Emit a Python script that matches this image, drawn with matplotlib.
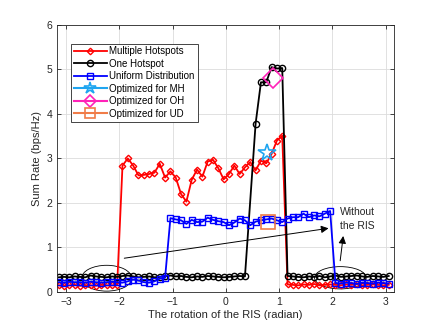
"""Sum rate vs RIS rotation angle, three user distributions plus the optimized points."""

import matplotlib

matplotlib.use("Agg")
import matplotlib.pyplot as plt
import numpy as np
from matplotlib.patches import Ellipse

plt.rcParams["font.family"] = ["Liberation Sans", "DejaVu Sans"]

# sampled rotation angles (radian), step 0.1 from -pi
theta = np.round(-np.pi + 0.1 * np.arange(63), 3)

# Multiple Hotspots (red)
mh = [0.15, 0.14, 0.15, 0.16, 0.14, 0.15, 0.15, 0.14, 0.16, 0.15, 0.15, 0.16,
      2.84, 3.00, 2.84, 2.62, 2.63, 2.65, 2.68, 2.88, 2.57, 2.71, 2.57, 2.20,
      2.03, 2.52, 2.75, 2.59, 2.93, 2.97, 2.78, 2.53, 2.65, 2.84, 2.65, 2.80,
      2.92, 2.73, 2.95, 2.89, 3.10, 3.40, 3.51,
      0.17, 0.16, 0.15, 0.17, 0.16, 0.18, 0.15, 0.16, 0.17, 0.16, 0.15, 0.17,
      0.16, 0.18, 0.15, 0.16, 0.17, 0.16, 0.15, 0.16]

# One Hotspot (black); no sample drawn at 0.46 rad
oh_idx = [i for i in range(63) if i != 36]
oh = [0.33, 0.34, 0.33, 0.35, 0.34, 0.33, 0.37, 0.35, 0.34, 0.33, 0.35, 0.34,
      0.36, 0.37, 0.35, 0.33, 0.34, 0.35, 0.33, 0.34, 0.36, 0.37, 0.35, 0.36,
      0.34, 0.33, 0.35, 0.34, 0.36, 0.35, 0.34, 0.33, 0.34, 0.35, 0.36, 0.35,
      3.78, 4.71, 4.71, 5.05, 5.02, 5.03,
      0.36, 0.35, 0.34, 0.33, 0.35, 0.34, 0.36, 0.33, 0.35, 0.37, 0.34, 0.35,
      0.36, 0.37, 0.35, 0.34, 0.36, 0.35, 0.34, 0.36]

# Uniform Distribution (blue)
ud = [0.22, 0.21, 0.23, 0.22, 0.22, 0.21, 0.23, 0.22, 0.21, 0.22, 0.23, 0.22,
      0.21, 0.24, 0.28, 0.26, 0.22, 0.21, 0.24, 0.30, 0.32,
      1.66, 1.63, 1.61, 1.53, 1.62, 1.57, 1.58, 1.67, 1.62, 1.59, 1.57, 1.50,
      1.56, 1.65, 1.61, 1.50, 1.58, 1.61, 1.63, 1.65, 1.61, 1.57, 1.65, 1.68,
      1.68, 1.76, 1.68, 1.72, 1.70, 1.76, 1.82,
      0.20, 0.19, 0.21, 0.20, 0.18, 0.21, 0.20, 0.19, 0.21, 0.20, 0.19]

# optimized RIS rotations
opt_mh = (0.78, 3.12)
opt_oh = (0.89, 4.80)
opt_ud = (0.79, 1.57)

fig, ax = plt.subplots(figsize=(4.36, 3.27), dpi=100)
fig.subplots_adjust(left=0.131, right=0.904, bottom=0.107, top=0.924)

ax.plot(theta, mh, "-D", color="#ff0000", lw=1.3, ms=3.3, mfc="none", mew=1.0,
        label="Multiple Hotspots")
ax.plot(theta[oh_idx], oh, "-o", color="black", lw=1.3, ms=4.5, mfc="none", mew=1.0,
        label="One Hotspot")
ax.plot(theta, ud, "-s", color="#0000ff", lw=1.3, ms=3.8, mfc="none", mew=1.0,
        label="Uniform Distribution")
ax.plot(*opt_mh, "*", color="#1fa5f0", ms=13, mfc="none", mew=1.2, ls="-",
        label="Optimized for MH")
ax.plot(*opt_oh, "D", color="#ff22b8", ms=10, mfc="none", mew=1.2, ls="-",
        label="Optimized for OH")
ax.plot(*opt_ud, "s", color="#f07c48", ms=10, mfc="none", mew=1.2, ls="-",
        label="Optimized for UD")

# "Without the RIS" annotations
ax.add_patch(Ellipse((-2.24, 0.31), 0.94, 0.58, fill=False, lw=0.6, color="black"))
ax.add_patch(Ellipse((2.15, 0.32), 0.97, 0.50, fill=False, lw=0.6, color="black"))
ax.annotate("", xy=(1.98, 1.44), xytext=(-1.96, 0.75),
            arrowprops=dict(arrowstyle="-|>", color="black", lw=0.7, mutation_scale=11))
ax.annotate("", xy=(2.21, 1.32), xytext=(2.14, 0.64),
            arrowprops=dict(arrowstyle="-|>", color="black", lw=0.7, mutation_scale=11))
ax.text(2.14, 1.64, "Without\nthe RIS", fontsize=7.5, ha="left", va="center",
        linespacing=1.4, color="#262626")

ax.set_xlim(-3.17, 3.16)
ax.set_ylim(0, 6)
ax.set_xticks(range(-3, 4))
ax.set_yticks(range(0, 7))
ax.tick_params(direction="in", labelsize=7.5, colors="#262626", length=3, width=0.6,
               top=True, right=True)
for s in ax.spines.values():
    s.set_color("#262626")
    s.set_linewidth(0.6)
ax.grid(True, color="#dcdcdc", lw=0.6)
ax.set_axisbelow(True)
ax.set_xlabel("The rotation of the RIS (radian)", fontsize=8, color="#262626", labelpad=2)
ax.set_ylabel("Sum Rate (bps/Hz)", fontsize=8, color="#262626", labelpad=3)

leg = ax.legend(loc="upper left", bbox_to_anchor=(0.04, 0.93), fontsize=7,
                handlelength=3.4, handletextpad=0.3, borderpad=0.3, labelspacing=0.25,
                fancybox=False, framealpha=1, edgecolor="#262626", borderaxespad=0)
leg.get_frame().set_linewidth(0.6)
for h, ms in zip(leg.legend_handles, [3.3, 4.5, 3.8, 9, 6.5, 6.5]):
    h.set_markersize(ms)

fig.savefig("out.png", dpi=100)
